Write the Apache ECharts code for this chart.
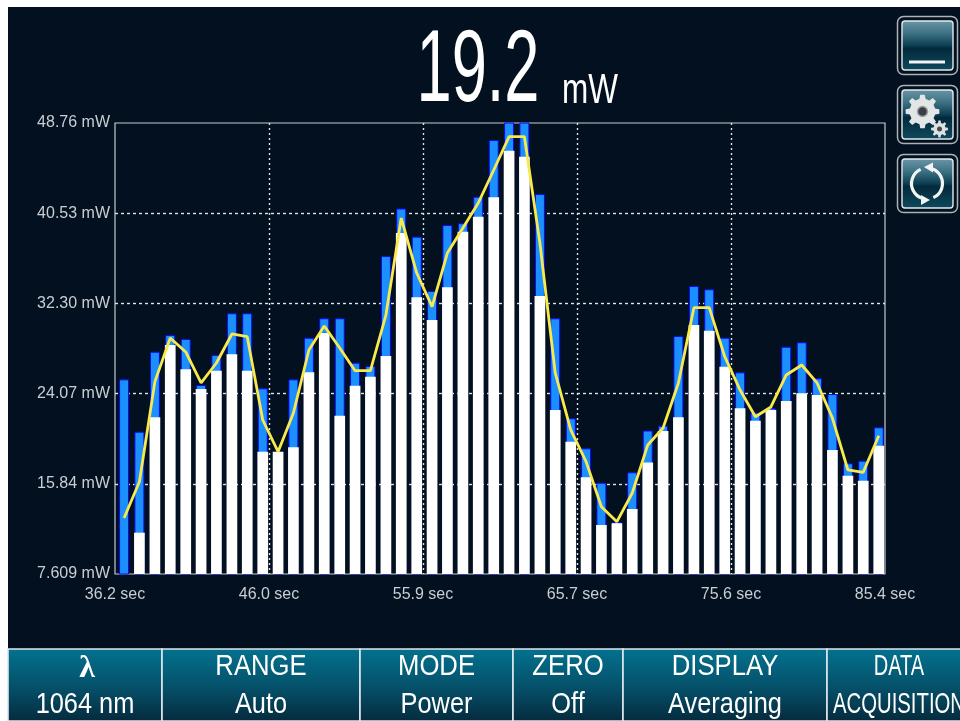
<!DOCTYPE html>
<html><head><meta charset="utf-8">
<style>
html,body{margin:0;padding:0;background:#fff;width:960px;height:721px;overflow:hidden}
#panel{position:absolute;left:8px;top:7px;width:952px;height:714px;background:linear-gradient(#02101f 0,#02101f 88%,#000a16 100%)}
#chart{position:absolute;left:0;top:0;width:960px;height:721px}
</style>
<script src="https://cdn.jsdelivr.net/npm/echarts@6/dist/echarts.min.js"></script>
</head><body><div id="panel"></div><div id="chart"></div>
<script>
const times=[36.78,37.76,38.75,39.73,40.72,41.70,42.68,43.67,44.65,45.64,46.62,47.60,48.59,49.57,50.56,51.54,52.52,53.51,54.49,55.48,56.46,57.44,58.43,59.41,60.40,61.38,62.36,63.35,64.33,65.32,66.30,67.28,68.27,69.25,70.24,71.22,72.20,73.19,74.17,75.16,76.14,77.12,78.11,79.09,80.08,81.06,82.04,83.03,84.01,85.00];
const peakMw=[25.37,20.59,27.89,29.42,29.05,24.85,27.59,31.40,31.40,24.55,18.77,25.37,29.17,30.94,30.94,26.89,26.59,36.62,40.96,38.39,33.43,39.45,39.61,42.04,47.21,50,50,42.28,30.94,21.82,19.08,15.94,12.35,16.89,20.70,21.14,29.33,33.89,33.59,29.17,26.01,22.33,22.73,28.35,28.75,25.47,24.03,17.71,17.95,20.99];
const lowMw=[null,11.38,21.91,28.50,26.29,24.49,26.16,27.66,26.16,18.77,18.77,19.17,26.01,29.60,22.05,24.79,25.61,27.50,38.72,32.86,30.79,33.77,38.84,40.21,41.98,46.23,45.68,32.97,22.57,19.68,16.43,12.08,12.24,13.54,17.78,20.66,21.91,30.33,29.81,26.52,22.73,21.60,22.57,23.39,24.10,23.94,18.92,16.58,16.12,19.32];
const avgMw=[12.72,16.03,25.16,29.14,27.87,25.04,26.86,29.51,29.26,21.66,18.77,22.30,28.05,30.24,28.23,26.16,26.16,31.24,40.09,35.07,32.00,36.90,39.18,41.46,44.47,47.51,47.51,37.81,25.95,20.75,17.86,13.75,12.38,15.00,19.38,20.93,25.04,31.91,31.91,27.44,24.40,21.96,22.85,25.77,26.68,25.04,21.84,17.10,16.89,20.23];
const yTicks=[7.609,15.84,24.07,32.30,40.53,48.76];
const yTickLabels=['7.609 mW','15.84 mW','24.07 mW','32.30 mW','40.53 mW','48.76 mW'];
const xTicks=[36.2,46.04,55.88,65.72,75.56,85.4];
const xTickLabels=['36.2 sec','46.0 sec','55.9 sec','65.7 sec','75.6 sec','85.4 sec'];
const reading='19.2', readingUnit='mW';
const footerButtons=[
 {x0:8,x1:162,top:'λ',bottom:'1064 nm'},
 {x0:162,x1:360,top:'RANGE',bottom:'Auto'},
 {x0:360,x1:513,top:'MODE',bottom:'Power'},
 {x0:513,x1:623,top:'ZERO',bottom:'Off'},
 {x0:623,x1:827,top:'DISPLAY',bottom:'Averaging'},
 {x0:827,x1:970,top:'DATA',bottom:'ACQUISITION',thin:true}
];
const FONT='"Liberation Sans", Arial, sans-serif';
const pair=a=>times.map((t,i)=>[t,a[i]]);
const grad=(stops)=>new echarts.graphic.LinearGradient(0,0,0,1,stops.map(s=>({offset:s[0],color:s[1]})));
function txt(x,y,text,size,sx,extra){return Object.assign({type:'text',x:x,y:y,scaleX:sx,z:50,silent:true,style:{text:text,font:size+'px '+FONT,fill:'#fff',align:'center',verticalAlign:'middle'}},extra||{});}
function gearPts(cx,cy,ro,ri,n){const pts=[];const st=Math.PI*2/n;for(let i=0;i<n;i++){const a=i*st;[[a-st*.30,ri],[a-st*.17,ro],[a+st*.17,ro],[a+st*.30,ri]].forEach(q=>pts.push([cx+q[1]*Math.cos(q[0]),cy+q[1]*Math.sin(q[0])]));}return pts;}
const g=[];
footerButtons.forEach(b=>{
 g.push({type:'rect',z:40,silent:true,shape:{x:b.x0,y:649,width:b.x1-b.x0,height:72},style:{fill:grad([[0,'#03728f'],[.55,'#054f68'],[1,'#052a3c']]),stroke:'#dfe8ec',lineWidth:1.6}});
 const c=(b.x0+b.x1)/2;
 if(b.top==='λ'){g.push(txt(87,669,b.top,32,1,{style:{text:b.top,font:'bold 32px "Liberation Serif","DejaVu Serif",serif',fill:'#fff',align:'center',verticalAlign:'middle'}}));}
 else g.push(txt(b.thin?899:c,667,b.top,29,b.thin?.69:.885));
 g.push(txt(b.thin?899:c,705,b.bottom,29,b.thin?.70:.875));
});
[[897,16],[897,85],[897,154]].forEach(p=>{
 g.push({type:'rect',z:40,silent:true,shape:{x:p[0]+.5,y:p[1]+.5,width:60,height:58,r:6},style:{fill:'#02101f',stroke:'#aab4b8',lineWidth:1.5}});
 g.push({type:'rect',z:41,silent:true,shape:{x:p[0]+5,y:p[1]+5,width:51,height:49,r:3},style:{fill:grad([[0,'#6c97a6'],[.25,'#3f7386'],[.5,'#0d3f53'],[.56,'#03293b'],[1,'#0f4a5e']]),stroke:'#e4eaec',lineWidth:1.4}});
});
g.push({type:'rect',z:45,silent:true,shape:{x:909,y:60.5,width:36,height:3},style:{fill:'#f2f4f4'}});
g.push({type:'polygon',z:45,silent:true,shape:{points:gearPts(922.5,111.5,17,13,8)},style:{fill:'#e3e6e7'}});
g.push({type:'circle',z:46,silent:true,shape:{cx:922.5,cy:111.5,r:5},style:{fill:'#3a3f42',stroke:'#9aa0a3',lineWidth:1.5}});
g.push({type:'polygon',z:45,silent:true,shape:{points:gearPts(939.5,129,8.5,6.2,8)},style:{fill:'#dfe2e3'}});
g.push({type:'circle',z:46,silent:true,shape:{cx:939.5,cy:129,r:2.5},style:{fill:'#444a4d'}});
const rc=[927,183.5,15.5];
g.push({type:'arc',z:45,silent:true,shape:{cx:rc[0],cy:rc[1],r:rc[2],startAngle:-1.25,endAngle:1.15,clockwise:true},style:{fill:null,stroke:'#f2f4f4',lineWidth:3.2}});
g.push({type:'arc',z:45,silent:true,shape:{cx:rc[0],cy:rc[1],r:rc[2],startAngle:1.89,endAngle:4.29,clockwise:true},style:{fill:null,stroke:'#f2f4f4',lineWidth:3.2}});
g.push({type:'polygon',z:45,silent:true,shape:{points:[[924,167],[933,162.5],[933,172.5]]},style:{fill:'#f2f4f4'}});
g.push({type:'polygon',z:45,silent:true,shape:{points:[[930,200],[921,195],[921,205]]},style:{fill:'#f2f4f4'}});
g.push(txt(478,72.5,reading,102,.62));
g.push(txt(590,91.5,readingUnit,42,.75));

const common={type:'value',min:36.2,max:85.4};
const chart=echarts.init(document.getElementById('chart'),null,{renderer:'canvas'});
chart.setOption({
 animation:false,
 backgroundColor:'transparent',
 grid:{left:115,right:75,top:123,bottom:147,show:true,borderColor:'#c4cbce',borderWidth:1.2,backgroundColor:'transparent'},
 xAxis:[
  Object.assign({},common,{
   axisLine:{show:false},
   axisTick:{show:false,customValues:xTicks},
   axisLabel:{customValues:xTicks,margin:13,color:'#c9ced2',fontSize:16,fontFamily:'Liberation Sans',formatter:v=>xTickLabels[xTicks.indexOf(v)]},
   splitLine:{show:true,showMinLine:false,showMaxLine:false,lineStyle:{color:'#dfe3e6',width:1.4,type:[2,3]}}
  }),
  Object.assign({},common,{show:false,splitLine:{show:false},axisLabel:{show:false}})
 ],
 yAxis:{type:'value',min:7.609,max:48.76,
  axisLine:{show:false},
  axisTick:{show:false,customValues:yTicks},
  axisLabel:{customValues:yTicks,margin:5,color:'#c9ced2',fontSize:16,fontFamily:'Liberation Sans',formatter:v=>yTickLabels[yTicks.indexOf(v)]},
  splitLine:{show:true,showMinLine:false,showMaxLine:false,lineStyle:{color:'#dfe3e6',width:1.4,type:[3,3]}}
 },
 graphic:{elements:g},
 series:[
  {name:'Peak',type:'bar',xAxisIndex:0,barWidth:10,data:pair(peakMw),itemStyle:{color:'#1c8fff',borderColor:'#0a0af0',borderWidth:1},z:3},
  {name:'Low',type:'bar',xAxisIndex:1,barWidth:10.7,data:pair(lowMw),itemStyle:{color:'#ffffff'},z:4},
  {name:'Average',type:'line',xAxisIndex:0,data:pair(avgMw),showSymbol:false,symbol:'none',lineStyle:{color:'#f8ea4a',width:2.8},z:5}
 ]
});
</script></body></html>
